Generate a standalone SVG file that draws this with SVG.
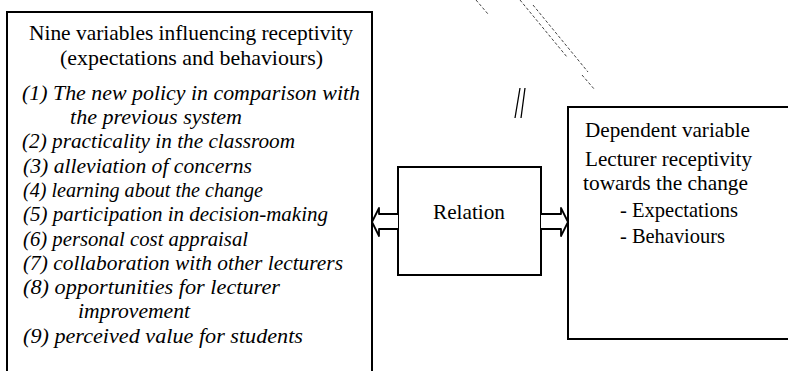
<svg xmlns="http://www.w3.org/2000/svg" width="788" height="371" viewBox="0 0 788 371">
<style>
.box{fill:none;stroke:#000;stroke-width:2}
.t{font-family:"Liberation Serif","Times New Roman",serif;font-size:21px;fill:#000}
.i{font-family:"Liberation Serif","Times New Roman",serif;font-size:21px;font-style:italic;fill:#000}
.arr{fill:#fff;stroke:#000;stroke-width:1.8;stroke-linejoin:round}
.scr{fill:none;stroke:#444;stroke-width:1;stroke-dasharray:3 2}
</style>
<rect width="788" height="371" fill="#fff"/>
<g id="scan-marks">
<path class="scr" d="M520 0 L567 57 M533 5 L588 72 M582 75 L595 90 M476 0 L488 14"/>
<path d="M520 88 L515 118 M525 88 L521 118" fill="none" stroke="#000" stroke-width="1.3"/>
</g>
<g id="independent">
<path class="box" d="M7 371 V12 H372 V371"/>
<text class="t" x="29" y="40" textLength="324" lengthAdjust="spacingAndGlyphs">Nine variables influencing receptivity</text>
<text class="t" x="60" y="65" textLength="263" lengthAdjust="spacingAndGlyphs">(expectations and behaviours)</text>
<text class="i" x="22" y="100" textLength="338" lengthAdjust="spacingAndGlyphs">(1) The new policy in comparison with</text>
<text class="i" x="70" y="124" textLength="172" lengthAdjust="spacingAndGlyphs">the previous system</text>
<text class="i" x="22" y="148" textLength="273" lengthAdjust="spacingAndGlyphs">(2) practicality in the classroom</text>
<text class="i" x="23" y="173" textLength="229" lengthAdjust="spacingAndGlyphs">(3) alleviation of concerns</text>
<text class="i" x="23" y="197" textLength="240" lengthAdjust="spacingAndGlyphs">(4) learning about the change</text>
<text class="i" x="23" y="221" textLength="305" lengthAdjust="spacingAndGlyphs">(5) participation in decision-making</text>
<text class="i" x="23" y="246" textLength="225" lengthAdjust="spacingAndGlyphs">(6) personal cost appraisal</text>
<text class="i" x="23" y="270" textLength="320" lengthAdjust="spacingAndGlyphs">(7) collaboration with other lecturers</text>
<text class="i" x="23" y="294" textLength="257" lengthAdjust="spacingAndGlyphs">(8) opportunities for lecturer</text>
<text class="i" x="78" y="318" textLength="112" lengthAdjust="spacingAndGlyphs">improvement</text>
<text class="i" x="23" y="343" textLength="280" lengthAdjust="spacingAndGlyphs">(9) perceived value for students</text>
</g>
<g id="relation">
<rect class="box" x="398" y="167" width="143" height="108"/>
<text class="t" x="433" y="219" textLength="72" lengthAdjust="spacingAndGlyphs">Relation</text>
</g>
<g id="dependent">
<path class="box" d="M788 107 H568 V339 H788"/>
<text class="t" x="585" y="137" textLength="165" lengthAdjust="spacingAndGlyphs">Dependent variable</text>
<text class="t" x="585" y="166" textLength="167" lengthAdjust="spacingAndGlyphs">Lecturer receptivity</text>
<text class="t" x="583" y="190" textLength="165" lengthAdjust="spacingAndGlyphs">towards the change</text>
<text class="t" x="620" y="217" textLength="118" lengthAdjust="spacingAndGlyphs">- Expectations</text>
<text class="t" x="620" y="243" textLength="105" lengthAdjust="spacingAndGlyphs">- Behaviours</text>
</g>
<g id="connectors">
<path class="arr" d="M398 214 H379 V208 L372 222 L379 236 V229 H398"/>
<path class="arr" d="M541 214 H561 V208 L568 222 L561 236 V229 H541"/>
</g>
</svg>
